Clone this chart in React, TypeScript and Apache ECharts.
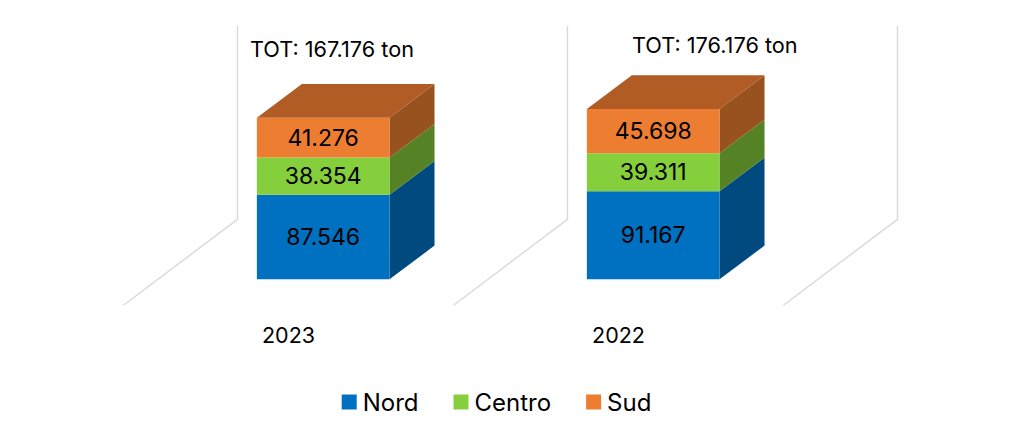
import React, { useEffect, useRef } from "react";
import * as echarts from "echarts";

const years = ["2023", "2022"];
const seriesNames = ["Nord", "Centro", "Sud"];
const nord = [87546, 91167];
const centro = [38354, 39311];
const sud = [41276, 45698];
const totals = ["TOT: 167.176 ton", "TOT: 176.176 ton"];
const axisMax = 200000;

const FONT = "Inter";
const frontColors = ["#0070C0", "#84CF3B", "#ED7D31"];
const sideColors = ["#004A80", "#558225", "#975220"];
const topColor = "#B05C24";
const wallColor = "#D9D9D9";

const GRID_LEFT = 123.5;
const GRID_WIDTH = 660;
const GRID_TOP = 112;
const GRID_HEIGHT = 193.3;
const BAR_SHIFT = [34.7, -26];
const DEPTH = [45, -33.7];
const WALL_SHIFT = [114, -86];
const BAR_RATIO = 0.402;

const fmt = (v: number) => String(v).replace(/\B(?=(\d{3})+(?!\d))/g, ".");

const stackSeries = (name: string, idx: number, values: number[], below: number[]) => ({
  name,
  type: "custom",
  itemStyle: { color: frontColors[idx] },
  z: 3,
  data: values.map((v, i) => [i, below[i], below[i] + v, v]),
  renderItem: (_p: any, api: any) => {
    const cat = api.value(0);
    const c0 = api.coord([cat, api.value(1)]);
    const c1 = api.coord([cat, api.value(2)]);
    const w = api.size([1, 0])[0] * BAR_RATIO;
    const x0 = c0[0] - w / 2 + BAR_SHIFT[0];
    const x1 = x0 + w;
    const yb = c0[1] + BAR_SHIFT[1];
    const yt = c1[1] + BAR_SHIFT[1];
    const children: any[] = [
      {
        type: "polygon",
        shape: { points: [[x1, yb], [x1 + DEPTH[0], yb + DEPTH[1]], [x1 + DEPTH[0], yt + DEPTH[1]], [x1, yt]] },
        style: { fill: sideColors[idx] },
      },
      {
        type: "rect",
        shape: { x: x0, y: yt, width: w, height: yb - yt },
        style: { fill: frontColors[idx] },
      },
    ];
    if (idx === seriesNames.length - 1) {
      children.push({
        type: "polygon",
        shape: { points: [[x0, yt], [x1, yt], [x1 + DEPTH[0], yt + DEPTH[1]], [x0 + DEPTH[0], yt + DEPTH[1]]] },
        style: { fill: topColor },
      });
    }
    children.push({
      type: "text",
      style: {
        text: fmt(api.value(3)),
        x: (x0 + x1) / 2,
        y: (yb + yt) / 2,
        align: "center",
        verticalAlign: "middle",
        fontFamily: FONT,
        fontSize: 23,
        fill: "#000000",
      },
    });
    return { type: "group", children };
  },
});

const wallSeries = {
  type: "custom",
  silent: true,
  z: 1,
  data: years.map((_, i) => [i]),
  renderItem: (_p: any, api: any) => {
    const cat = api.value(0);
    const base = api.coord([cat, 0]);
    const top = api.coord([cat, axisMax]);
    const band = api.size([1, 0])[0];
    const edges = [base[0] - band / 2];
    if (cat === years.length - 1) edges.push(base[0] + band / 2);
    const children = edges.map((x) => ({
      type: "polyline",
      shape: {
        points: [
          [x, base[1]],
          [x + WALL_SHIFT[0], base[1] + WALL_SHIFT[1]],
          [x + WALL_SHIFT[0], top[1] + WALL_SHIFT[1]],
        ],
      },
      style: { fill: "none", stroke: wallColor, lineWidth: 1.4 },
    }));
    return { type: "group", children };
  },
};

export default function App() {
  const ref = useRef<HTMLDivElement>(null);
  useEffect(() => {
    const chart = echarts.init(ref.current!, undefined, { renderer: "svg" });
    chart.setOption({
      animation: false,
      backgroundColor: "#ffffff",
      grid: { left: GRID_LEFT, top: GRID_TOP, width: GRID_WIDTH, height: GRID_HEIGHT },
      xAxis: {
        type: "category",
        data: years,
        axisLine: { show: false },
        axisTick: { show: false },
        axisLabel: { margin: 19, fontFamily: FONT, fontSize: 21.5, color: "#000000" },
      },
      yAxis: { type: "value", min: 0, max: axisMax, show: false, splitLine: { show: false } },
      legend: {
        data: seriesNames,
        left: 341.7,
        top: 390,
        padding: 0,
        icon: "rect",
        itemWidth: 15,
        itemHeight: 15,
        itemGap: 35,
        textStyle: { fontFamily: FONT, fontSize: 24, color: "#000000", padding: [0, 0, 0, 1] },
      },
      graphic: [
        { type: "text", left: 250, top: 38, style: { text: totals[0], fontFamily: FONT, fontSize: 21.7, fill: "#000000" } },
        { type: "text", left: 632, top: 34, style: { text: totals[1], fontFamily: FONT, fontSize: 21.7, fill: "#000000" } },
      ],
      series: [
        wallSeries,
        stackSeries(seriesNames[0], 0, nord, nord.map(() => 0)),
        stackSeries(seriesNames[1], 1, centro, nord),
        stackSeries(seriesNames[2], 2, sud, nord.map((v, i) => v + centro[i])),
      ],
    });
    return () => chart.dispose();
  }, []);
  return <div ref={ref} style={{ position: "absolute", left: 0, top: 0, width: 1024, height: 422 }} />;
}
